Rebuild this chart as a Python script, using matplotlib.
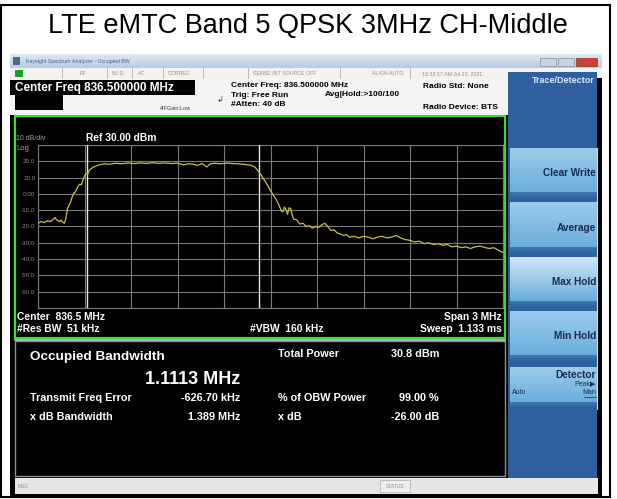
import numpy as np
import matplotlib.pyplot as plt
from matplotlib.patches import Rectangle

plt.rcParams['font.family'] = ['Liberation Sans', 'DejaVu Sans']

# ---- данные анализатора ----
title = "LTE eMTC Band 5 QPSK 3MHz CH-Middle"
center_mhz = 836.5
span_mhz = 3.0
ref_dbm = 30.0
db_per_div = 10.0
obw_mhz = 1.1113
freq_err_khz = -626.70

# трасса (смещение от левого края, МГц) и уровень, dBm
trace_off = [0.00, 0.02, 0.04, 0.06, 0.08, 0.10, 0.11, 0.12, 0.14, 0.15, 0.16, 0.17,
             0.18, 0.19, 0.20, 0.21, 0.22, 0.23, 0.24, 0.25, 0.26, 0.27, 0.28, 0.29,
             0.30, 0.31, 0.32, 0.33, 0.35, 0.37, 0.40, 0.43, 0.46, 0.50, 0.54, 0.58,
             0.62, 0.66, 0.70, 0.74, 0.78, 0.82, 0.86, 0.90, 0.94, 0.97, 1.00, 1.03,
             1.06, 1.09, 1.11, 1.14, 1.18, 1.22, 1.26, 1.30, 1.34, 1.37, 1.40, 1.42,
             1.44, 1.46, 1.48, 1.50, 1.52, 1.54, 1.56, 1.57, 1.58, 1.59, 1.60, 1.61,
             1.62, 1.63, 1.64, 1.65, 1.67, 1.69, 1.71, 1.73, 1.75, 1.77, 1.79, 1.81,
             1.83, 1.85, 1.87, 1.89, 1.91, 1.93, 1.95, 1.97, 1.99, 2.01, 2.04, 2.07,
             2.10, 2.13, 2.16, 2.19, 2.22, 2.25, 2.28, 2.31, 2.34, 2.37, 2.40, 2.43,
             2.46, 2.49, 2.52, 2.55, 2.58, 2.61, 2.64, 2.67, 2.70, 2.73, 2.76, 2.79,
             2.82, 2.85, 2.88, 2.91, 2.94, 2.97, 3.00]
trace_dbm = [-18.0, -17.0, -17.5, -16.5, -17.0, -15.5, -14.5, -16.0, -17.0, -16.0, -17.5, -18.0,
             -15.0, -9.0, -7.0, -5.0, -2.0, 0.5, 1.0, 3.0, 5.0, 6.0, 5.5, 8.5,
             11.0, 12.5, 12.0, 14.5, 16.0, 17.0, 18.0, 18.5, 18.2, 18.8, 18.5, 19.0,
             18.6, 19.0, 18.7, 19.1, 18.8, 19.0, 18.6, 18.9, 17.8, 18.5, 18.2, 17.5,
             18.6, 16.5, 18.4, 18.8, 18.5, 18.9, 18.6, 18.4, 18.0, 17.6, 16.5, 14.0,
             11.5, 8.5, 5.5, 2.0, -1.0, -4.0, -8.0, -10.5, -11.0, -8.0, -9.5, -12.5,
             -8.5, -9.0, -13.0, -15.5, -16.0, -18.5, -18.0, -20.0, -19.5, -21.0, -20.0, -20.5,
             -19.0, -18.0, -20.0, -22.5, -22.0, -24.0, -24.5, -25.5, -25.0, -26.5, -26.0, -27.0,
             -26.0, -26.5, -27.5, -26.5, -26.0, -27.0, -26.5, -25.5, -27.0, -28.0, -28.5, -29.5,
             -29.0, -30.5, -30.0, -31.0, -30.5, -31.5, -31.0, -32.5, -32.0, -33.0, -32.5, -33.5,
             -32.5, -32.0, -32.8, -33.5, -33.0, -34.5, -36.0]

ytick_labels = ["20.0", "10.0", "0.00", "-10.0", "-20.0", "-30.0", "-40.0", "-50.0", "-60.0"]
buttons = ["Clear Write", "Average", "Max Hold", "Min Hold"]

W, H = 617, 499
fig = plt.figure(figsize=(W / 100, H / 100), dpi=100)
bg = fig.add_axes([0, 0, 1, 1])
bg.set_xlim(0, W)
bg.set_ylim(H, 0)
bg.axis('off')


def box(x0, y0, x1, y1, fc, ec='none', lw=0, z=1):
    bg.add_patch(Rectangle((x0, y0), x1 - x0, y1 - y0, fc=fc, ec=ec, lw=lw, zorder=z))


def grad(x0, y0, x1, y1, c_top, c_bot, z=1):
    t = np.linspace(0, 1, 64)[:, None]
    a = np.array(plt.matplotlib.colors.to_rgb(c_top))
    b = np.array(plt.matplotlib.colors.to_rgb(c_bot))
    img = (a * (1 - t) + b * t)[:, None, :]
    bg.imshow(img, extent=(x0, x1, y1, y0), aspect='auto', zorder=z, interpolation='bilinear')


def txt(x, y, s, size, color='white', ha='left', weight='bold', **kw):
    bg.text(x, y, s, fontsize=size, color=color, ha=ha, va='center', fontweight=weight, zorder=10, **kw)


# рамка и заголовок
bg.add_patch(Rectangle((1, 5), 609, 492, fc='none', ec='black', lw=1.5, zorder=20))
txt(308, 26, title, 19.5, color='black', ha='center', weight='normal')

# фон скриншота
box(10, 54, 602, 497, 'black')
# заголовок окна
grad(10, 54, 602, 68, '#dce8f4', '#b8cce0')
box(13, 57, 20, 65, '#4a6a90', z=2)
txt(26, 61, "Keysight Spectrum Analyzer - Occupied BW", 3.8, color='#4a6080', weight='normal')
box(540, 58, 556, 66, '#c8d4e0', ec='#8090a0', lw=0.5, z=2)
box(558, 58, 574, 66, '#c8d4e0', ec='#8090a0', lw=0.5, z=2)
box(576, 58, 597, 66, '#d04030', ec='#903020', lw=0.5, z=2)
# строка статуса
box(10, 68, 602, 78, '#f2f2f2')
box(15, 70, 23, 77, '#20a020', z=2)
for sx in [62, 107, 132, 163, 203, 248, 340, 410]:
    bg.plot([sx, sx], [68, 78], color='#b0b0b0', lw=0.6, zorder=3)
for sx, s in [(80, "RF"), (112, "50 \u03a9"), (138, "AC"), (168, "CORREC"),
              (253, "SENSE:INT SOURCE OFF"), (372, "ALIGN AUTO"), (422, "10:32:17 AM Jul 23, 2021")]:
    txt(sx, 73.5, s, 3.8, color='#909090', weight='normal')
# информационная панель
box(10, 78, 508, 115, '#f4f4f4')
box(10, 80, 195, 95, 'black', z=2)
box(15, 95, 63, 110, 'black', z=2)
txt(15, 87.5, "Center Freq 836.500000 MHz", 8.5)
txt(231, 85, "Center Freq: 836.500000 MHz", 6, color='black')
txt(231, 95, "Trig: Free Run", 6, color='black')
txt(231, 104, "#Atten: 40 dB", 6, color='black')
txt(325, 94.5, "Avg|Hold:>100/100", 6, color='black')
txt(423, 86, "Radio Std: None", 6, color='black')
txt(423, 107, "Radio Device: BTS", 6, color='black')
txt(160, 108, "#IFGain:Low", 4, color='#404040', weight='normal')
txt(217, 101, "\u21b2", 6, color='#404040', weight='normal')

# панель графика
bg.add_patch(Rectangle((15, 116), 490, 222, fc='black', ec='#38dc38', lw=1.6, zorder=2))
txt(16, 138, "10 dB/div", 5, color='#a0a0a0', weight='normal')
txt(16, 148, "Log", 5.5, color='#a0a0a0', weight='normal')
txt(86, 138, "Ref %.2f dBm" % ref_dbm, 7.4)
txt(17, 317, "Center  %.1f MHz" % center_mhz, 7.4)
txt(17, 329, "#Res BW  51 kHz", 7.4)
txt(250, 329, "#VBW  160 kHz", 7.4)
txt(502, 317, "Span %g MHz" % span_mhz, 7.4, ha='right')
txt(502, 329, "Sweep  1.133 ms", 7.4, ha='right')

# нижняя панель измерений
bg.plot([15, 505], [340, 340], color='#d0d0d0', lw=1.2, zorder=3)
box(15, 341, 505, 476, 'black', ec='#909090', lw=1, z=2)
txt(30, 357, "Occupied Bandwidth", 9.7)
txt(240, 379, "%.4f MHz" % obw_mhz, 13, ha='right')
txt(30, 398, "Transmit Freq Error", 7.8)
txt(240, 398, "%.2f kHz" % freq_err_khz, 7.8, ha='right')
txt(30, 417, "x dB Bandwidth", 7.8)
txt(240, 417, "1.389 MHz", 7.8, ha='right')
txt(278, 354, "Total Power", 7.8)
txt(439, 354, "30.8 dBm", 7.8, ha='right')
txt(278, 398, "% of OBW Power", 7.8)
txt(439, 398, "99.00 %", 7.8, ha='right')
txt(278, 417, "x dB", 7.8)
txt(439, 417, "-26.00 dB", 7.8, ha='right')

# строка сообщений
box(15, 478, 598, 494, '#e6e6e6')
txt(18, 486, "MSG", 3.5, color='#909090', weight='normal')
box(380, 480, 410, 492, '#eeeeee', ec='#b0b0b0', lw=0.5, z=2)
txt(395, 486, "STATUS", 3.5, color='#909090', ha='center', weight='normal')

# правая панель
box(508, 72, 597, 478, '#2f5f9e')
txt(563, 80, "Trace/Detector", 6.5, color='#d8e8f8', ha='center')
btn_top = [148, 203, 257, 311]
for i, name in enumerate(buttons):
    y0 = btn_top[i]
    top_c = '#cfe6f6' if name == "Max Hold" else '#9ccbea'
    grad(510, y0, 597, y0 + 44, top_c, '#6aaedc', z=2)
    grad(510, y0 + 44, 597, y0 + 51, '#3f78b0', '#2d5f98', z=2)
    txt(596, y0 + 25, name, 7.2, color='#1a2a50', ha='right')
grad(510, 367, 597, 402, '#9ccbea', '#6aaedc', z=2)
grad(510, 402, 597, 409, '#3f78b0', '#2d5f98', z=2)
txt(596, 375, "Detector", 7.2, color='#1a2a50', ha='right')
txt(596, 384, "Peak\u25b6", 5, color='#1a2a50', ha='right', weight='normal')
txt(512, 393, "Auto", 5, color='#1a2a50', weight='normal')
bg.text(596, 393, "Man", fontsize=5, color='#1a2a50', ha='right', va='center', zorder=10)
bg.plot([584, 596], [396.5, 396.5], color='#1a2a50', lw=0.5, zorder=10)
bg.plot([597, 597], [148, 409], color='#e0e0a0', lw=0.8, zorder=4)

# спектр
left_mhz = center_mhz - span_mhz / 2
freqs = [left_mhz + f for f in trace_off]
ax = fig.add_axes([38 / W, (H - 308) / H, 465 / W, 163 / H])
ax.set_facecolor('black')
ax.set_xlim(left_mhz, left_mhz + span_mhz)
ax.set_ylim(ref_dbm - 10 * db_per_div, ref_dbm)
ax.set_xticks(np.linspace(left_mhz, left_mhz + span_mhz, 11))
ax.set_yticks(np.arange(ref_dbm - 10 * db_per_div, ref_dbm + 1, db_per_div))
ax.set_xticklabels([])
ax.set_yticklabels([""] + ytick_labels[::-1] + [""])
ax.tick_params(length=0, labelsize=4.5, labelcolor='#8a8a8a', pad=2)
ax.grid(True, color='#7a7a7a', lw=0.8)
for s in ax.spines.values():
    s.set_color('#7a7a7a')
obw_center = center_mhz + freq_err_khz / 1000
for m in [obw_center - obw_mhz / 2, obw_center + obw_mhz / 2]:
    ax.axvline(m, color='#e8e8e8', lw=1.0, zorder=3)
ax.plot(freqs, trace_dbm, color='#c8c23a', lw=0.9, zorder=4)

fig.savefig('out.png', dpi=100)
